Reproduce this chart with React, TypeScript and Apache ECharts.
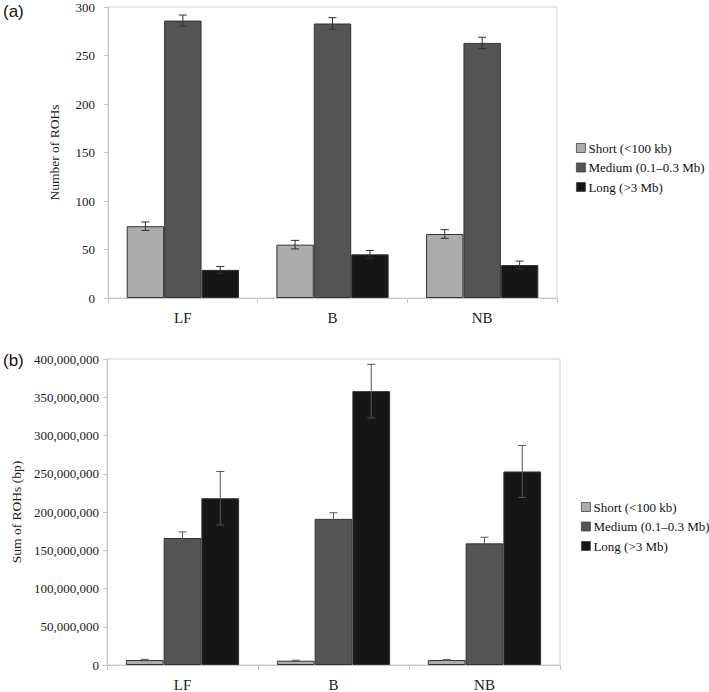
import React, { useEffect, useRef } from "react";
import * as echarts from "echarts";

const categories = ["LF", "B", "NB"];
const seriesNames = ["Short (<100 kb)", "Medium (0.1–0.3 Mb)", "Long (>3 Mb)"];
const seriesColors = ["#acacac", "#545454", "#161616"];

// (a) Number of ROHs
const countShort = [74, 55, 66];
const countShortErr = [4.4, 4.4, 4.5];
const countMedium = [286, 283, 263];
const countMediumErr = [5.7, 6, 5.8];
const countLong = [29, 45, 34];
const countLongErr = [3.5, 4, 4];

// (b) Sum of ROHs (bp)
const sumShort = [6500000, 5600000, 6500000];
const sumShortErr = [800000, 600000, 600000];
const sumMedium = [166000000, 191000000, 159000000];
const sumMediumErr = [8000000, 8000000, 8000000];
const sumLong = [218000000, 358000000, 253000000];
const sumLongErr = [35000000, 35000000, 34000000];

const countTicks = { min: 0, max: 300, interval: 50 };
const sumTicks = { min: 0, max: 400000000, interval: 50000000 };

const SERIF = "Liberation Serif";

function errData(vals: number[], errs: number[]) {
  return vals.map((v, i) => [i, v - errs[i], v + errs[i]]);
}

function errRenderer(offsetFactor: number, stroke: string) {
  return (params: any, api: any) => {
    const xi = api.value(0);
    const lo = api.coord([xi, api.value(1)]);
    const hi = api.coord([xi, api.value(2)]);
    const w = api.size([1, 0])[0];
    const cx = lo[0] + offsetFactor * w * 0.25;
    const cap = 4;
    const style = { stroke, lineWidth: 1 };
    return {
      type: "group",
      children: [
        { type: "line", shape: { x1: cx, y1: lo[1], x2: cx, y2: hi[1] }, style },
        { type: "line", shape: { x1: cx - cap, y1: lo[1], x2: cx + cap, y2: lo[1] }, style },
        { type: "line", shape: { x1: cx - cap, y1: hi[1], x2: cx + cap, y2: hi[1] }, style },
      ],
    };
  };
}

export default function App() {
  const ref = useRef<HTMLDivElement>(null);

  useEffect(() => {
    if (!ref.current) return;
    const chart = echarts.init(ref.current, undefined, { renderer: "svg" });

    const countVals = [countShort, countMedium, countLong];
    const countErrs = [countShortErr, countMediumErr, countLongErr];
    const sumVals = [sumShort, sumMedium, sumLong];
    const sumErrs = [sumShortErr, sumMediumErr, sumLongErr];

    const barSeries = (idx: number, gridIdx: number, data: number[]) => ({
      type: "bar",
      name: seriesNames[idx],
      xAxisIndex: gridIdx,
      yAxisIndex: gridIdx,
      data,
      barGap: "0%",
      barCategoryGap: "25%",
      itemStyle: { color: seriesColors[idx], borderColor: "#333", borderWidth: 1 },
      emphasis: { disabled: true },
    });

    const errSeries = (idx: number, gridIdx: number, vals: number[], errs: number[], stroke: string) => ({
      type: "custom",
      xAxisIndex: gridIdx,
      yAxisIndex: gridIdx,
      z: 10,
      data: errData(vals, errs),
      encode: { x: 0, y: [1, 2] },
      renderItem: errRenderer(idx - 1, stroke),
      silent: true,
    });

    const xAxisBase = (gridIndex: number) => ({
      type: "category",
      gridIndex,
      data: categories,
      axisLine: { lineStyle: { color: "#c8c8c8" } },
      axisTick: { show: true, length: 5, lineStyle: { color: "#c8c8c8" } },
      axisLabel: { fontFamily: SERIF, fontSize: 15, color: "#1a1a1a", margin: 12 },
    });

    const legendBase = (left: number, top: number) => ({
      orient: "vertical",
      left,
      top,
      data: seriesNames,
      itemWidth: 9,
      itemHeight: 9,
      itemGap: 5.5,
      icon: "rect",
      selectedMode: false,
      itemStyle: { borderColor: "#444", borderWidth: 0.8 },
      textStyle: { fontFamily: SERIF, fontSize: 13, color: "#111", lineHeight: 14, padding: [0, 0, 0, -2] },
    });

    const option: any = {
      animation: false,
      backgroundColor: "#ffffff",
      grid: [
        { left: 108, top: 7, right: 152, bottom: 394, show: true, borderColor: "#d0d0d0", borderWidth: 1 },
        { left: 107, top: 359, right: 149, bottom: 25, show: true, borderColor: "#d0d0d0", borderWidth: 1 },
      ],
      xAxis: [xAxisBase(0), xAxisBase(1)],
      yAxis: [
        {
          type: "value",
          gridIndex: 0,
          ...countTicks,
          name: "Number of ROHs",
          nameLocation: "middle",
          nameGap: 47,
          nameTextStyle: { fontFamily: SERIF, fontSize: 13.5, color: "#1a1a1a" },
          splitLine: { show: false },
          axisLine: { show: true, lineStyle: { color: "#c8c8c8" } },
          axisTick: { show: true, length: 4, lineStyle: { color: "#c8c8c8" } },
          axisLabel: { fontFamily: SERIF, fontSize: 13, color: "#1a1a1a", margin: 13 },
        },
        {
          type: "value",
          gridIndex: 1,
          ...sumTicks,
          name: "Sum of ROHs (bp)",
          nameLocation: "middle",
          nameGap: 83,
          nameTextStyle: { fontFamily: SERIF, fontSize: 13.5, color: "#1a1a1a" },
          splitLine: { show: false },
          axisLine: { show: true, lineStyle: { color: "#c8c8c8" } },
          axisTick: { show: true, length: 4, lineStyle: { color: "#c8c8c8" } },
          axisLabel: {
            fontFamily: SERIF,
            fontSize: 13,
            color: "#1a1a1a",
            margin: 8,
            formatter: (v: number) => v.toLocaleString("en-US"),
          },
        },
      ],
      legend: [legendBase(571, 136), legendBase(576, 495)],
      graphic: [
        { type: "text", left: 3, top: 3, style: { text: "(a)", fontFamily: "Liberation Sans", fontSize: 17, fill: "#111" } },
        { type: "text", left: 3, top: 352, style: { text: "(b)", fontFamily: "Liberation Sans", fontSize: 17, fill: "#111" } },
      ],
      series: [
        ...countVals.map((d, i) => barSeries(i, 0, d)),
        ...sumVals.map((d, i) => barSeries(i, 1, d)),
        ...countVals.map((d, i) => errSeries(i, 0, d, countErrs[i], "#333")),
        ...sumVals.map((d, i) => errSeries(i, 1, d, sumErrs[i], "#555")),
      ],
    };

    chart.setOption(option);
    return () => chart.dispose();
  }, []);

  return (
    <div
      ref={ref}
      style={{ position: "absolute", left: 0, top: 0, width: 709, height: 692, background: "#fff" }}
    />
  );
}
